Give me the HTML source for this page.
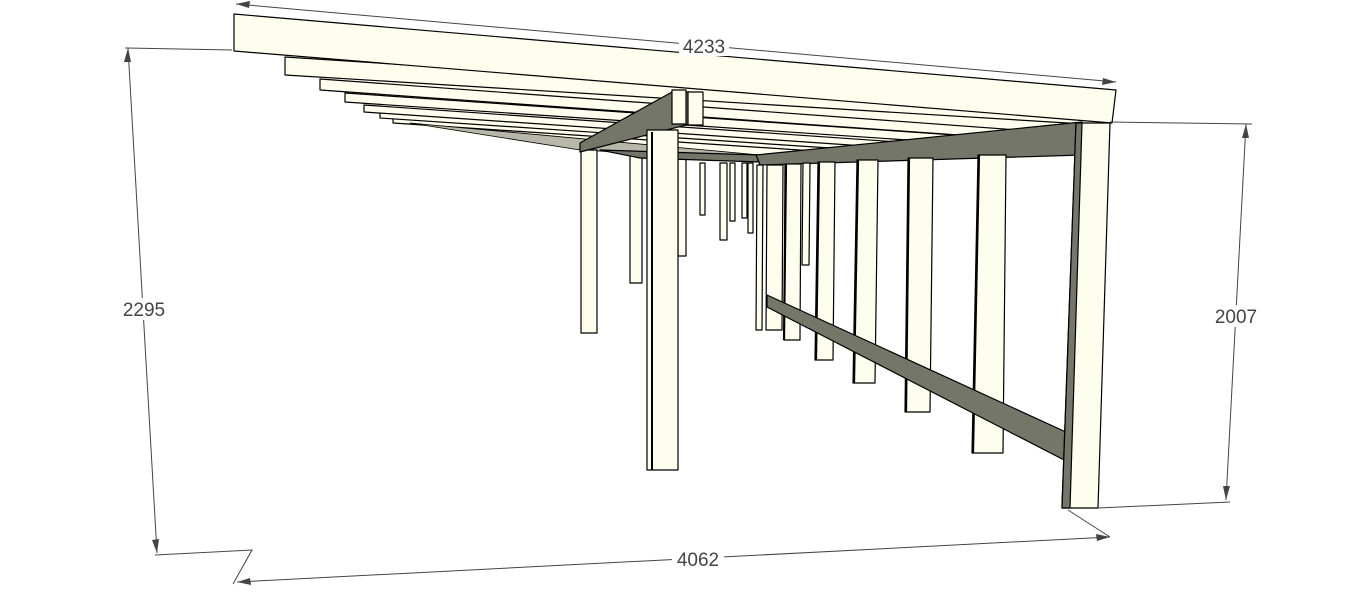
<!DOCTYPE html>
<html><head><style>
html,body{margin:0;padding:0;background:#fff;}
svg{display:block;}
text{font-family:"Liberation Sans",sans-serif;font-size:19px;fill:#444;}
</style></head><body>
<svg width="1362" height="599" viewBox="0 0 1362 599" xmlns="http://www.w3.org/2000/svg">
<defs><clipPath id="cl"><polygon points="200,0 1100,0 1100,125 1076,125 760,160 580,152 200,120"/></clipPath></defs>
<g stroke="#000" stroke-width="1.2" stroke-linejoin="round">
<polygon points="285,57 1100,118 1082,156 760,162 580,150 400,124" fill="#FEFEEE" stroke="none"/>
<g fill="#FEFEEE" clip-path="url(#cl)">
<polygon points="393,118 1100,165 1100,170 393,123"/>
<polygon points="380,112 1100,160 1100,166 380,118"/>
<polygon points="364,105 1100,156 1100,162 364,112"/>
<polygon points="345,93 1100,145 1100,153 345,102"/>
<polygon points="320,79 1100,136 1100,145 320,90"/>
<polygon points="285,57 1100,110 1100,125 285,75"/>
</g>
<polygon points="410,123 760,155 760,160 580,150" fill="#b8b8aa" stroke-width="0.8"/>
<g fill="#FEFEEE">
<rect x="700" y="163" width="5" height="52"/>
<rect x="720" y="163" width="7" height="77"/>
<rect x="730" y="163" width="5" height="58"/>
<rect x="742" y="163" width="5" height="55"/>
<rect x="748" y="163" width="5" height="70"/>
<rect x="678" y="158" width="8" height="98"/>
<rect x="630" y="155" width="12" height="128"/>
<rect x="581" y="150" width="16" height="183"/>
</g>
<polygon points="580,143 672,92 690,92 690,124 580,152" fill="#75766A"/>
<polygon points="600,150 760,155 760,162 640,158" fill="#75766A"/>
<polygon points="756,155 1082,122 1082,155 760,165" fill="#75766A"/>
<g fill="#FEFEEE">
<polygon points="757,165 763,165 762,330 756,330"/>
<polygon points="767,165 783,165 782,330 766,330"/>
<polygon points="785,164 801,164 800,340 784,340"/>
<polygon points="803,163 810,163 809,265 802,265"/>
<polygon points="818,162 835,162 833,360 815,360"/>
<polygon points="857,160 878,160 875,383 853,383"/>
<polygon points="908,158 933,158 930,412 905,412"/>
<polygon points="978,155 1006,155 1003,453 972,453"/>
</g>
<g stroke-width="2.2">
<line x1="786" y1="164" x2="784" y2="340"/>
<line x1="819" y1="162" x2="816" y2="360"/>
<line x1="858" y1="160" x2="854" y2="383"/>
<line x1="909" y1="158" x2="906" y2="412"/>
<line x1="979" y1="155" x2="973" y2="453"/>
</g>
<polygon points="767,295 1068,433 1068,462 767,307" fill="#75766A"/>
<polygon points="1068,433 1080,433 1080,462 1068,462" fill="#FEFEEE"/>
<rect x="647" y="130" width="31" height="340" fill="#FEFEEE"/>
<line x1="652" y1="132" x2="652" y2="470" stroke-width="2"/>
<rect x="672" y="90" width="14" height="34" fill="#FEFEEE"/>
<rect x="688" y="92" width="15" height="33" fill="#FEFEEE"/>
<polygon points="234,14 1116,90 1112,123 234,51" fill="#FEFEEE"/>
<polygon points="1076,123 1110,123 1098,508 1062,508 1062,505" fill="#FEFEEE"/>
<polygon points="1076,123 1082,123 1070,508 1062,508" fill="#75766A"/>
</g>
<g stroke="#444" stroke-width="1" fill="none">
<line x1="236" y1="4" x2="1116" y2="82"/>
<line x1="125" y1="48" x2="232" y2="50"/>
<line x1="128" y1="48" x2="157" y2="553"/>
<polyline points="155,555 252,550 233,584"/>
<line x1="237" y1="582" x2="1110" y2="537"/>
<line x1="1068" y1="510" x2="1110" y2="537"/>
<line x1="1110" y1="122" x2="1252" y2="124"/>
<line x1="1098" y1="508" x2="1230" y2="502"/>
<line x1="1246" y1="124" x2="1226" y2="500"/>
</g>
<g fill="#444">
<polygon points="236,4 250,1 249,8"/>
<polygon points="1116,82 1102,85 1103,78"/>
<polygon points="128,48 124,62 131,62"/>
<polygon points="157,553 152,540 159,539"/>
<polygon points="1246,124 1242,138 1249,138"/>
<polygon points="1226,500 1223,486 1230,486"/>
<polygon points="1110,537 1097,541 1096,534"/>
<polygon points="237,582 250,578 251,585"/>
</g>
<rect x="679" y="36" width="50" height="20" fill="#fff"/>
<text x="704" y="53" text-anchor="middle">4233</text>
<rect x="118" y="298" width="52" height="22" fill="#fff"/>
<text x="144" y="316" text-anchor="middle">2295</text>
<rect x="1210" y="305" width="52" height="22" fill="#fff"/>
<text x="1236" y="323" text-anchor="middle">2007</text>
<rect x="672" y="548" width="52" height="22" fill="#fff"/>
<text x="698" y="566" text-anchor="middle">4062</text>
</svg>
</body></html>
